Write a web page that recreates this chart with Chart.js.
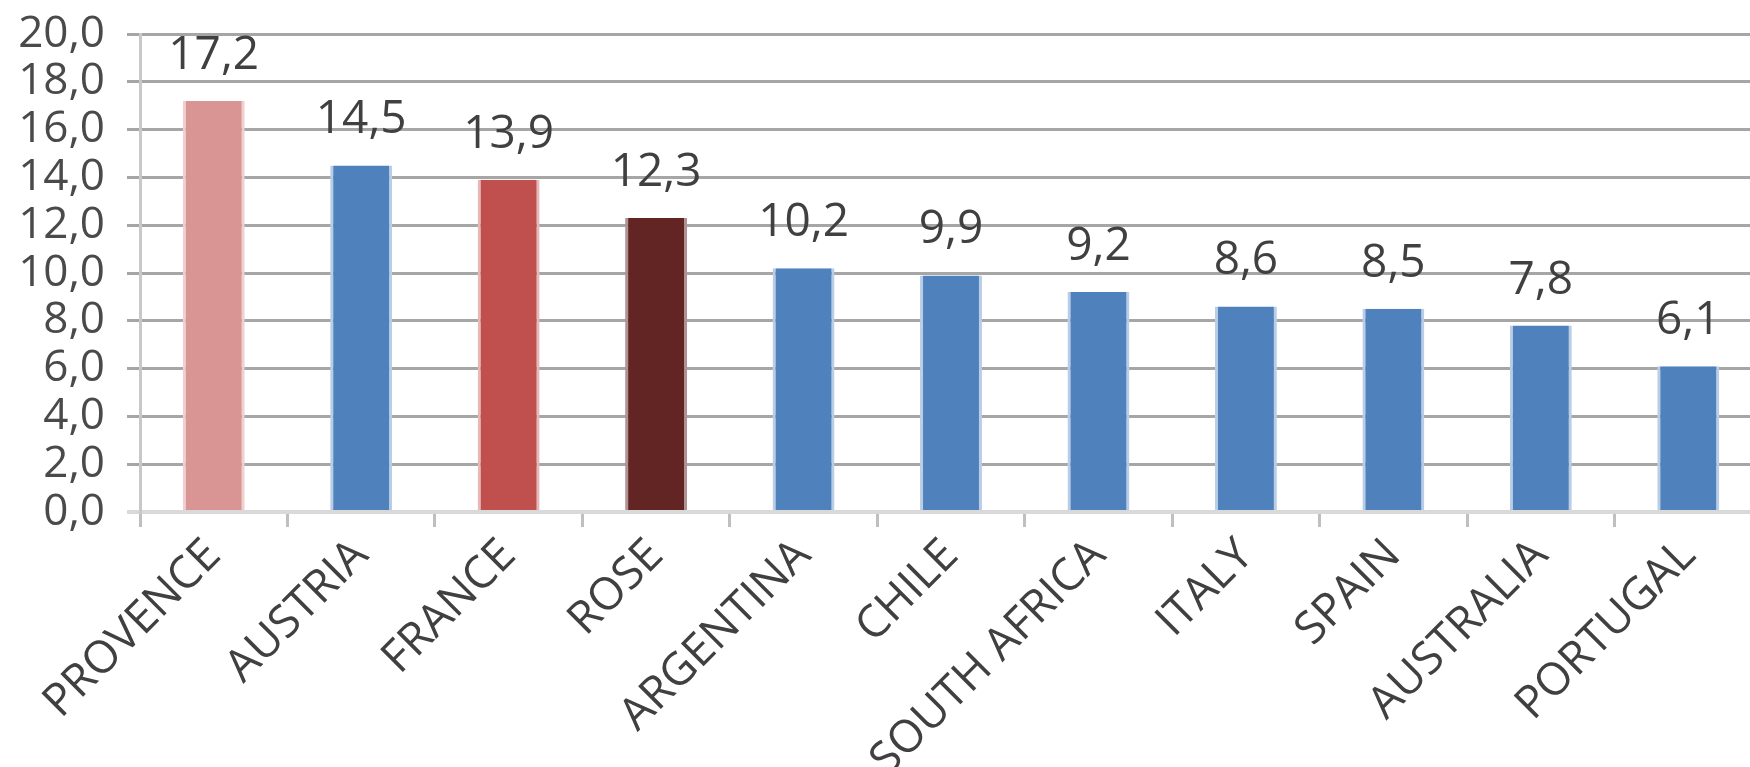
<!DOCTYPE html>
<html lang="en">
<head>
  <meta charset="UTF-8">
  <title>Average price by origin</title>
  <script src="https://cdn.jsdelivr.net/npm/chart.js"></script>
  <style>
    html, body { margin: 0; padding: 0; background: #fff; overflow: hidden; }
    /* plot runs a little past the right edge, like the cropped original */
    #wrap { width: 1762px; height: 767px; }
  </style>
</head>
<body>
  <div id="wrap"><canvas id="chartPrice"></canvas></div>

  <script>
    const categories = ['PROVENCE', 'AUSTRIA', 'FRANCE', 'ROSE', 'ARGENTINA', 'CHILE',
                        'SOUTH AFRICA', 'ITALY', 'SPAIN', 'AUSTRALIA', 'PORTUGAL'];
    const values = [17.2, 14.5, 13.9, 12.3, 10.2, 9.9, 9.2, 8.6, 8.5, 7.8, 6.1];
    const barColors = ['#d99594', '#4f81bd', '#c0504d', '#632523', '#4f81bd', '#4f81bd',
                       '#4f81bd', '#4f81bd', '#4f81bd', '#4f81bd', '#4f81bd'];
    const edgeColors = ['#efcfcf', '#b9cde6', '#e6b8b7', '#b09292', '#b9cde6', '#b9cde6',
                        '#b9cde6', '#b9cde6', '#b9cde6', '#b9cde6', '#b9cde6'];
    const yMin = 0, yMax = 20, yStep = 2;

    const fmt = v => v.toFixed(1).replace('.', ',');
    const FONT = '"Open Sans", "DejaVu Sans", sans-serif';

    // value labels above each bar
    const valueLabels = {
      id: 'valueLabels',
      afterDatasetsDraw(chart) {
        const { ctx } = chart;
        const meta = chart.getDatasetMeta(0);
        ctx.save();
        ctx.font = '46px ' + FONT;
        ctx.fillStyle = '#404040';
        ctx.textAlign = 'center';
        ctx.textBaseline = 'alphabetic';
        meta.data.forEach((bar, i) => {
          ctx.fillText(fmt(values[i]), bar.x, bar.y - 32);
        });
        ctx.restore();
      }
    };

    new Chart(document.getElementById('chartPrice'), {
      type: 'bar',
      data: {
        labels: categories,
        datasets: [{
          data: values,
          backgroundColor: barColors,
          borderColor: edgeColors,
          borderWidth: { left: 3, right: 3, top: 0, bottom: 0 },
          borderSkipped: false,
          categoryPercentage: 1,
          barPercentage: 0.42
        }]
      },
      options: {
        responsive: true,
        maintainAspectRatio: false,
        animation: false,
        layout: { padding: { top: 34, left: 0, right: 0, bottom: 0 } },
        plugins: { legend: { display: false }, tooltip: { enabled: false } },
        scales: {
          x: {
            grid: {
              offset: true,
              drawOnChartArea: false,
              tickLength: 15,
              color: '#bfbfbf',
              lineWidth: 3
            },
            border: { display: true, color: '#d9d9d9', width: 4 },
            ticks: {
              autoSkip: false,
              minRotation: 45,
              maxRotation: 45,
              padding: 2,
              color: '#404040',
              font: { family: FONT, size: 45 }
            },
            afterFit(scale) { scale.height = 255; }
          },
          y: {
            min: yMin,
            max: yMax,
            grid: {
              tickLength: 13,
              color: c => c.tick && c.tick.value === 0 ? '#d9d9d9' : '#a6a6a6',
              lineWidth: c => c.tick && c.tick.value === 0 ? 4 : 3
            },
            border: { display: true, color: '#c8c8c8', width: 3 },
            ticks: {
              stepSize: yStep,
              autoSkip: false,
              padding: 22,
              color: '#4a4a4a',
              font: { family: FONT, size: 44 },
              callback: v => fmt(v)
            },
            afterFit(scale) {
              scale.width = 140;
              scale.paddingTop = 0;
              scale.paddingBottom = 0;
            }
          }
        }
      },
      plugins: [valueLabels]
    });
  </script>
</body>
</html>
